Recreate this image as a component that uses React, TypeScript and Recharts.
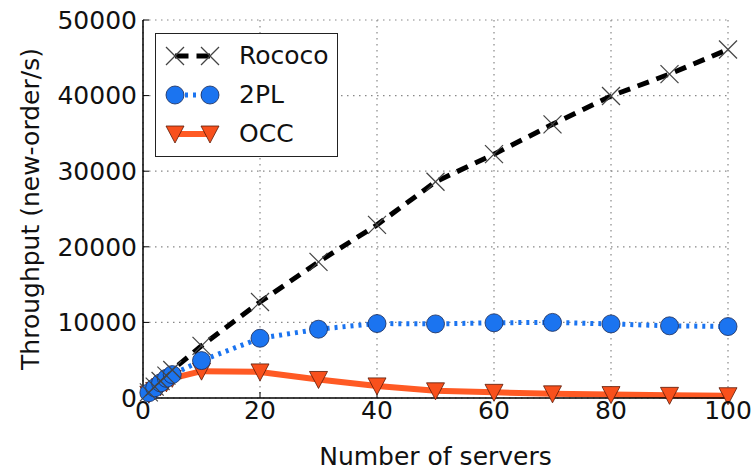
import { LineChart, Line, XAxis, YAxis, CartesianGrid, Legend } from 'recharts'

const servers = [1, 2, 3, 4, 5, 10, 20, 30, 40, 50, 60, 70, 80, 90, 100]
const rococo = [750, 1500, 2250, 2950, 3700, 6900, 12700, 18000, 22900, 28600, 32250, 36200, 39950, 42850, 46100]
const twoPL = [700, 1350, 2000, 2600, 3100, 4950, 7900, 9100, 9850, 9800, 9950, 10000, 9800, 9550, 9450]
const occ = [500, 1000, 1500, 2000, 2600, 3550, 3450, 2450, 1600, 950, 750, 550, 450, 350, 300]

const xTicks = [0, 20, 40, 60, 80, 100]
const yTicks = [0, 10000, 20000, 30000, 40000, 50000]

const data = servers.map((s, i) => ({ servers: s, rococo: rococo[i], twoPL: twoPL[i], occ: occ[i] }))

const FONT = '"DejaVu Sans", sans-serif'
const BLUE = '#1b74f0'
const ORANGE = '#f8501c'
const ORANGE_LINE = '#ff5a24'

const CrossDot = ({ cx, cy }: any) => {
  if (cx == null || cy == null) return null
  return (
    <g stroke="#444" strokeWidth={1.2}>
      <line x1={cx - 9} y1={cy - 9} x2={cx + 9} y2={cy + 9} />
      <line x1={cx - 9} y1={cy + 9} x2={cx + 9} y2={cy - 9} />
    </g>
  )
}

const CircleDot = ({ cx, cy }: any) => {
  if (cx == null || cy == null) return null
  return <circle cx={cx} cy={cy} r={9} fill={BLUE} stroke="#1a2a55" strokeWidth={0.8} />
}

const TriDot = ({ cx, cy }: any) => {
  if (cx == null || cy == null) return null
  return (
    <polygon
      points={`${cx - 9},${cy - 8} ${cx + 9},${cy - 8} ${cx},${cy + 9}`}
      fill={ORANGE}
      stroke="#5a1a08"
      strokeWidth={0.8}
    />
  )
}

const legendItems = [
  { name: 'Rococo', kind: 'rococo' },
  { name: '2PL', kind: '2pl' },
  { name: 'OCC', kind: 'occ' },
]

const LegendIcon = ({ kind }: { kind: string }) => (
  <svg width={64} height={30} style={{ display: 'block', flexShrink: 0 }}>
    {kind === 'rococo' && (
      <>
        <line x1={13} y1={15} x2={48} y2={15} stroke="#000" strokeWidth={5} strokeDasharray="13.5 8" />
        <CrossDot cx={13} cy={15} />
        <CrossDot cx={48} cy={15} />
      </>
    )}
    {kind === '2pl' && (
      <>
        <line x1={13} y1={15} x2={48} y2={15} stroke={BLUE} strokeWidth={5} strokeDasharray="3 5" strokeDashoffset={-2} />
        <CircleDot cx={13} cy={15} />
        <CircleDot cx={48} cy={15} />
      </>
    )}
    {kind === 'occ' && (
      <>
        <line x1={13} y1={15} x2={48} y2={15} stroke={ORANGE_LINE} strokeWidth={6} />
        <TriDot cx={13} cy={15} />
        <TriDot cx={48} cy={15} />
      </>
    )}
  </svg>
)

const LegendBox = () => (
  <div
    style={{
      boxSizing: 'border-box',
      background: '#fff',
      border: '1.5px solid #222',
      padding: '2px 3px 3px 6px',
      fontFamily: FONT,
      fontSize: 25,
      color: '#111',
      width: 183,
    }}
  >
    {legendItems.map((it) => (
      <div key={it.name} style={{ display: 'flex', alignItems: 'center', height: 39 }}>
        <LegendIcon kind={it.kind} />
        <span style={{ marginLeft: 13, whiteSpace: 'nowrap' }}>{it.name}</span>
      </div>
    ))}
  </div>
)

export default function App() {
  return (
    <div style={{ position: 'absolute', left: 0, top: 0, width: 756, height: 472, background: '#fff' }}>
      <LineChart width={756} height={472} data={data} margin={{ top: 20, right: 0, bottom: 0, left: 0 }}>
        <CartesianGrid xAxisId="b" yAxisId="l" stroke="#888" strokeDasharray="1.5 4.5" strokeWidth={1.2} />
        <XAxis
          xAxisId="b"
          dataKey="servers"
          type="number"
          domain={[0, 100]}
          ticks={xTicks}
          height={74}
          tickSize={-6}
          tickMargin={9}
          stroke="#000"
          tick={{ fill: '#111', fontSize: 25, fontFamily: FONT }}
          axisLine={{ stroke: '#000', strokeWidth: 1.5 }}
          label={{ value: 'Number of servers', position: 'insideBottom', offset: 7, fill: '#111', fontSize: 25, fontFamily: FONT }}
        />
        <XAxis
          xAxisId="t"
          orientation="top"
          dataKey="servers"
          type="number"
          domain={[0, 100]}
          ticks={xTicks}
          height={0}
          tickSize={-6}
          tick={false}
          axisLine={false}
          stroke="#000"
        />
        <YAxis
          yAxisId="l"
          type="number"
          domain={[0, 50000]}
          ticks={yTicks}
          width={143}
          tickSize={-6}
          tickMargin={12}
          stroke="#000"
          tick={{ fill: '#111', fontSize: 25, fontFamily: FONT }}
          axisLine={{ stroke: '#000', strokeWidth: 1.5 }}
          label={{ value: 'Throughput (new-order/s)', angle: -90, position: 'center', dx: -41, fill: '#111', fontSize: 25, fontFamily: FONT }}
        />
        <YAxis
          yAxisId="r"
          orientation="right"
          type="number"
          domain={[0, 50000]}
          ticks={yTicks}
          width={28}
          tickSize={-6}
          tick={false}
          axisLine={false}
          stroke="#000"
          allowDataOverflow
        />
        <Legend
          layout="vertical"
          align="center"
          verticalAlign="middle"
          content={<LegendBox />}
          wrapperStyle={{ position: 'absolute', left: 155, top: 33, width: 'auto', height: 'auto' }}
        />
        <Line
          xAxisId="b"
          yAxisId="l"
          dataKey="occ"
          name="OCC"
          stroke={ORANGE_LINE}
          strokeWidth={6}
          dot={<TriDot />}
          activeDot={false}
          isAnimationActive={false}
        />
        <Line
          xAxisId="b"
          yAxisId="l"
          dataKey="twoPL"
          name="2PL"
          stroke={BLUE}
          strokeWidth={5}
          strokeDasharray="3 5"
          dot={<CircleDot />}
          activeDot={false}
          isAnimationActive={false}
        />
        <Line
          xAxisId="b"
          yAxisId="l"
          dataKey="rococo"
          name="Rococo"
          stroke="#000"
          strokeWidth={5}
          strokeDasharray="12 8"
          dot={<CrossDot />}
          activeDot={false}
          isAnimationActive={false}
        />
      </LineChart>
    </div>
  )
}
